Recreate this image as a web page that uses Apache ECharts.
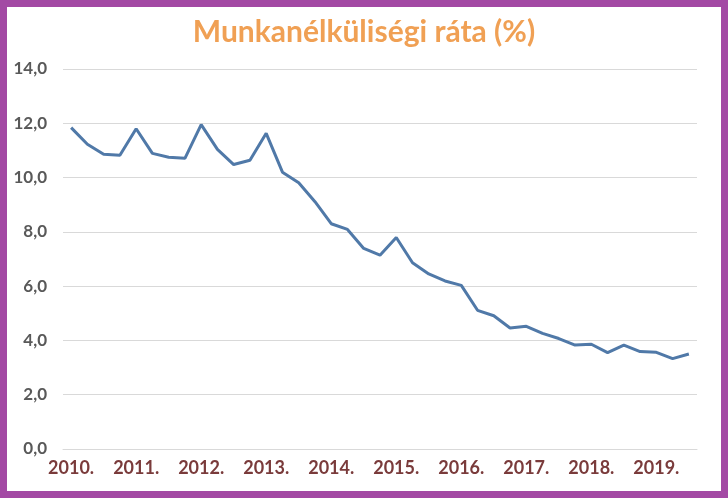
<!DOCTYPE html>
<html>
<head>
<meta charset="utf-8">
<script src="https://cdn.jsdelivr.net/npm/echarts@6/dist/echarts.min.js"></script>
<style>
html,body{margin:0;padding:0;background:#fff;}
#chart{width:728px;height:498px;}
</style>
</head>
<body>
<div id="chart"></div>
<script>
const titleText = 'Munkanélküliségi ráta (%)';
const yearLabels = ['2010.','2011.','2012.','2013.','2014.','2015.','2016.','2017.','2018.','2019.'];
const quarters = ['I.','II.','III.','IV.'];
const values = [
  11.84, 11.23, 10.86, 10.82,
  11.80, 10.89, 10.75, 10.71,
  11.95, 11.04, 10.48, 10.64,
  11.63, 10.20, 9.81, 9.11,
  8.30, 8.09, 7.39, 7.14,
  7.79, 6.86, 6.45, 6.19,
  6.03, 5.11, 4.91, 4.46,
  4.52, 4.26, 4.07, 3.83,
  3.86, 3.55, 3.83, 3.59,
  3.56, 3.33, 3.50
];
const categories = values.map((v, i) => yearLabels[Math.floor(i / 4)] + ' ' + quarters[i % 4]);

const chart = echarts.init(document.getElementById('chart'), null, {renderer: 'canvas'});
chart.setOption({
  animation: false,
  backgroundColor: '#ffffff',
  title: {
    text: titleText,
    left: 'center',
    top: 12,
    textStyle: {
      fontFamily: 'Lato',
      fontWeight: 'bold',
      fontSize: 30,
      color: '#F0A054'
    }
  },
  grid: {left: 63, right: 31, top: 69, bottom: 49, containLabel: false},
  xAxis: {
    type: 'category',
    data: categories,
    boundaryGap: true,
    axisLine: {show: true, lineStyle: {color: '#D9D9D9', width: 1}},
    axisTick: {show: false},
    axisLabel: {
      interval: 3,
      formatter: function (v) { return v.split(' ')[0]; },
      margin: 10,
      fontFamily: 'Lato',
      fontWeight: 'bold',
      fontSize: 18,
      color: '#7A3B3B'
    },
    splitLine: {show: false}
  },
  yAxis: {
    type: 'value',
    min: 0,
    max: 14,
    interval: 2,
    axisLine: {show: false},
    axisTick: {show: false},
    axisLabel: {
      margin: 16,
      formatter: function (v) { return v.toFixed(1).replace('.', ','); },
      fontFamily: 'Lato',
      fontWeight: 'bold',
      fontSize: 17,
      color: '#595959'
    },
    splitLine: {lineStyle: {color: '#D9D9D9', width: 1}}
  },
  series: [{
    type: 'line',
    data: values,
    symbol: 'none',
    lineStyle: {color: '#5079A8', width: 3},
    itemStyle: {color: '#5079A8'}
  }],
  graphic: [{
    type: 'rect',
    shape: {x: 3.5, y: 3.5, width: 721, height: 491},
    style: {fill: 'none', stroke: '#A349A4', lineWidth: 7},
    z: 100
  }]
});
</script>
</body>
</html>
